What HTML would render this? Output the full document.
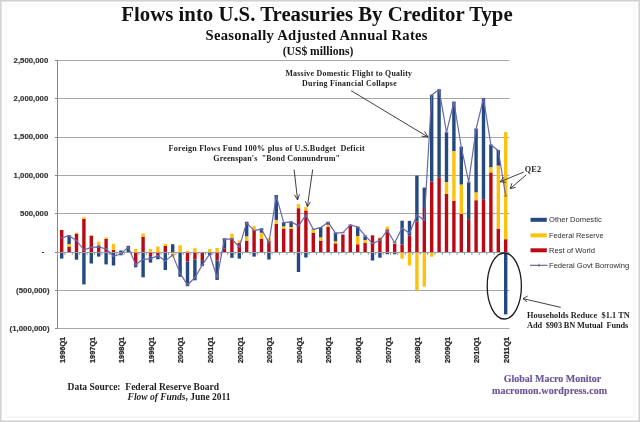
<!DOCTYPE html>
<html><head><meta charset="utf-8"><title>Flows into U.S. Treasuries By Creditor Type</title>
<style>html,body{margin:0;padding:0;background:#fff;}body{width:640px;height:422px;overflow:hidden;}svg{display:block;}</style>
</head><body>
<svg width="640" height="422" viewBox="0 0 640 422">
<rect x="0" y="0" width="640" height="422" fill="#ffffff"/>
<g stroke="#a8a8a8" stroke-width="1" fill="none"><line x1="57.5" y1="60.5" x2="509.5" y2="60.5"/><line x1="57.5" y1="98.5" x2="509.5" y2="98.5"/><line x1="57.5" y1="137.5" x2="509.5" y2="137.5"/><line x1="57.5" y1="175.5" x2="509.5" y2="175.5"/><line x1="57.5" y1="213.5" x2="509.5" y2="213.5"/><line x1="57.5" y1="290.5" x2="509.5" y2="290.5"/><line x1="57.5" y1="328.5" x2="509.5" y2="328.5"/></g>
<g id="bars"><rect x="60" y="230" width="3.4" height="22" fill="#b90a15"/><rect x="60" y="252" width="3.4" height="6.6" fill="#24497f"/><rect x="67.4" y="246.5" width="3.4" height="5.5" fill="#b90a15"/><rect x="67.4" y="244" width="3.4" height="2.5" fill="#fcc20e"/><rect x="67.4" y="235" width="3.4" height="9" fill="#24497f"/><rect x="74.8" y="233.5" width="3.4" height="18.5" fill="#b90a15"/><rect x="74.8" y="232.6" width="3.4" height="0.9" fill="#fcc20e"/><rect x="74.8" y="252" width="3.4" height="7.7" fill="#24497f"/><rect x="82.2" y="219" width="3.4" height="33" fill="#b90a15"/><rect x="82.2" y="217.2" width="3.4" height="1.8" fill="#fcc20e"/><rect x="82.2" y="252" width="3.4" height="32.4" fill="#24497f"/><rect x="89.6" y="235.7" width="3.4" height="16.3" fill="#b90a15"/><rect x="89.6" y="235" width="3.4" height="0.7" fill="#fcc20e"/><rect x="89.6" y="252" width="3.4" height="11.5" fill="#24497f"/><rect x="97" y="245.3" width="3.4" height="6.7" fill="#b90a15"/><rect x="97" y="241.6" width="3.4" height="3.7" fill="#fcc20e"/><rect x="97" y="252" width="3.4" height="4.6" fill="#24497f"/><rect x="104.4" y="238.9" width="3.4" height="13.1" fill="#b90a15"/><rect x="104.4" y="237.3" width="3.4" height="1.6" fill="#fcc20e"/><rect x="104.4" y="252" width="3.4" height="12.4" fill="#24497f"/><rect x="111.8" y="249.7" width="3.4" height="2.3" fill="#b90a15"/><rect x="111.8" y="243.8" width="3.4" height="5.9" fill="#fcc20e"/><rect x="111.8" y="252" width="3.4" height="13.5" fill="#24497f"/><rect x="119.2" y="250.5" width="3.4" height="1.5" fill="#24497f"/><rect x="119.2" y="252" width="3.4" height="3.3" fill="#24497f"/><rect x="126.6" y="245.8" width="3.4" height="6.2" fill="#24497f"/><rect x="134" y="249" width="3.4" height="3" fill="#fcc20e"/><rect x="134" y="252" width="3.4" height="13.2" fill="#b90a15"/><rect x="134" y="265.2" width="3.4" height="2.1" fill="#24497f"/><rect x="141.4" y="236.7" width="3.4" height="15.3" fill="#b90a15"/><rect x="141.4" y="233.6" width="3.4" height="3.1" fill="#fcc20e"/><rect x="141.4" y="252" width="3.4" height="25.3" fill="#24497f"/><rect x="148.8" y="248.8" width="3.4" height="3.2" fill="#fcc20e"/><rect x="148.8" y="252" width="3.4" height="4.2" fill="#b90a15"/><rect x="148.8" y="256.2" width="3.4" height="6.4" fill="#24497f"/><rect x="156.2" y="246.5" width="3.4" height="5.5" fill="#fcc20e"/><rect x="156.2" y="252" width="3.4" height="4" fill="#b90a15"/><rect x="156.2" y="256" width="3.4" height="3.3" fill="#24497f"/><rect x="163.6" y="246" width="3.4" height="6" fill="#b90a15"/><rect x="163.6" y="244" width="3.4" height="2" fill="#fcc20e"/><rect x="163.6" y="252" width="3.4" height="18" fill="#24497f"/><rect x="171" y="244.2" width="3.4" height="7.8" fill="#24497f"/><rect x="171" y="252" width="3.4" height="5" fill="#fcc20e"/><rect x="178.4" y="245.2" width="3.4" height="6.8" fill="#fcc20e"/><rect x="178.4" y="252" width="3.4" height="24.8" fill="#24497f"/><rect x="185.8" y="251" width="3.4" height="1" fill="#fcc20e"/><rect x="185.8" y="252" width="3.4" height="9.6" fill="#b90a15"/><rect x="185.8" y="261.6" width="3.4" height="24.6" fill="#24497f"/><rect x="193.2" y="248.2" width="3.4" height="3.8" fill="#fcc20e"/><rect x="193.2" y="252" width="3.4" height="7.5" fill="#b90a15"/><rect x="193.2" y="259.5" width="3.4" height="20.8" fill="#24497f"/><rect x="200.6" y="252" width="3.4" height="8.8" fill="#b90a15"/><rect x="200.6" y="260.8" width="3.4" height="5.3" fill="#24497f"/><rect x="208" y="249" width="3.4" height="3" fill="#fcc20e"/><rect x="208" y="252" width="3.4" height="3.3" fill="#24497f"/><rect x="215.4" y="248" width="3.4" height="4" fill="#fcc20e"/><rect x="215.4" y="252" width="3.4" height="8.5" fill="#b90a15"/><rect x="215.4" y="260.5" width="3.4" height="19.4" fill="#24497f"/><rect x="222.8" y="248.4" width="3.4" height="3.6" fill="#b90a15"/><rect x="222.8" y="238.3" width="3.4" height="10.1" fill="#24497f"/><rect x="230.2" y="238.1" width="3.4" height="13.9" fill="#b90a15"/><rect x="230.2" y="233.6" width="3.4" height="4.5" fill="#fcc20e"/><rect x="230.2" y="252" width="3.4" height="5.8" fill="#24497f"/><rect x="237.6" y="243" width="3.4" height="9" fill="#b90a15"/><rect x="237.6" y="240.5" width="3.4" height="2.5" fill="#fcc20e"/><rect x="237.6" y="252" width="3.4" height="6.6" fill="#24497f"/><rect x="245" y="240.6" width="3.4" height="11.4" fill="#b90a15"/><rect x="245" y="236.3" width="3.4" height="4.3" fill="#fcc20e"/><rect x="245" y="221.7" width="3.4" height="14.6" fill="#24497f"/><rect x="252.4" y="230.3" width="3.4" height="21.7" fill="#b90a15"/><rect x="252.4" y="226.1" width="3.4" height="4.2" fill="#fcc20e"/><rect x="252.4" y="252" width="3.4" height="4.6" fill="#24497f"/><rect x="259.8" y="238.6" width="3.4" height="13.4" fill="#b90a15"/><rect x="259.8" y="232.7" width="3.4" height="5.9" fill="#fcc20e"/><rect x="259.8" y="228.3" width="3.4" height="4.4" fill="#24497f"/><rect x="267.2" y="241" width="3.4" height="11" fill="#b90a15"/><rect x="267.2" y="237.9" width="3.4" height="3.1" fill="#fcc20e"/><rect x="267.2" y="252" width="3.4" height="7.5" fill="#24497f"/><rect x="274.6" y="224" width="3.4" height="28" fill="#b90a15"/><rect x="274.6" y="219.9" width="3.4" height="4.1" fill="#fcc20e"/><rect x="274.6" y="195" width="3.4" height="24.9" fill="#24497f"/><rect x="282" y="228.5" width="3.4" height="23.5" fill="#b90a15"/><rect x="282" y="226.3" width="3.4" height="2.2" fill="#fcc20e"/><rect x="282" y="222.7" width="3.4" height="3.6" fill="#24497f"/><rect x="289.4" y="229" width="3.4" height="23" fill="#b90a15"/><rect x="289.4" y="227" width="3.4" height="2" fill="#fcc20e"/><rect x="289.4" y="221.5" width="3.4" height="5.5" fill="#24497f"/><rect x="296.8" y="208.2" width="3.4" height="43.8" fill="#b90a15"/><rect x="296.8" y="204" width="3.4" height="4.2" fill="#fcc20e"/><rect x="296.8" y="252" width="3.4" height="20" fill="#24497f"/><rect x="304.2" y="210.4" width="3.4" height="41.6" fill="#b90a15"/><rect x="304.2" y="207.2" width="3.4" height="3.2" fill="#fcc20e"/><rect x="304.2" y="252" width="3.4" height="5.5" fill="#24497f"/><rect x="311.6" y="233" width="3.4" height="19" fill="#b90a15"/><rect x="311.6" y="230" width="3.4" height="3" fill="#fcc20e"/><rect x="319" y="240.6" width="3.4" height="11.4" fill="#b90a15"/><rect x="319" y="237.3" width="3.4" height="3.3" fill="#fcc20e"/><rect x="319" y="227.4" width="3.4" height="9.9" fill="#24497f"/><rect x="326.4" y="227" width="3.4" height="25" fill="#b90a15"/><rect x="326.4" y="224.7" width="3.4" height="2.3" fill="#fcc20e"/><rect x="326.4" y="222" width="3.4" height="2.7" fill="#24497f"/><rect x="333.8" y="243.4" width="3.4" height="8.6" fill="#b90a15"/><rect x="333.8" y="241.3" width="3.4" height="2.1" fill="#fcc20e"/><rect x="333.8" y="232.7" width="3.4" height="8.6" fill="#24497f"/><rect x="341.2" y="234.5" width="3.4" height="17.5" fill="#b90a15"/><rect x="348.6" y="225.7" width="3.4" height="26.3" fill="#b90a15"/><rect x="356" y="244.3" width="3.4" height="7.7" fill="#b90a15"/><rect x="356" y="236" width="3.4" height="8.3" fill="#fcc20e"/><rect x="356" y="226.8" width="3.4" height="9.2" fill="#24497f"/><rect x="363.4" y="242.7" width="3.4" height="9.3" fill="#b90a15"/><rect x="363.4" y="240" width="3.4" height="2.7" fill="#fcc20e"/><rect x="363.4" y="236.3" width="3.4" height="3.7" fill="#24497f"/><rect x="370.8" y="235.3" width="3.4" height="16.7" fill="#b90a15"/><rect x="370.8" y="252" width="3.4" height="8.5" fill="#24497f"/><rect x="378.2" y="238.2" width="3.4" height="13.8" fill="#b90a15"/><rect x="378.2" y="237.5" width="3.4" height="0.7" fill="#fcc20e"/><rect x="378.2" y="252" width="3.4" height="5.7" fill="#24497f"/><rect x="385.6" y="229.3" width="3.4" height="22.7" fill="#b90a15"/><rect x="385.6" y="226.7" width="3.4" height="2.6" fill="#fcc20e"/><rect x="385.6" y="252" width="3.4" height="2.2" fill="#24497f"/><rect x="393" y="243.6" width="3.4" height="8.4" fill="#b90a15"/><rect x="393" y="252" width="3.4" height="2.2" fill="#24497f"/><rect x="400.4" y="244.5" width="3.4" height="7.5" fill="#b90a15"/><rect x="400.4" y="220.7" width="3.4" height="23.8" fill="#24497f"/><rect x="400.4" y="252" width="3.4" height="6.7" fill="#fcc20e"/><rect x="407.8" y="235.6" width="3.4" height="16.4" fill="#b90a15"/><rect x="407.8" y="220.9" width="3.4" height="14.7" fill="#24497f"/><rect x="407.8" y="252" width="3.4" height="13.5" fill="#fcc20e"/><rect x="415.2" y="221.6" width="3.4" height="30.4" fill="#b90a15"/><rect x="415.2" y="175.6" width="3.4" height="46" fill="#24497f"/><rect x="415.2" y="252" width="3.4" height="38.3" fill="#fcc20e"/><rect x="422.6" y="208" width="3.4" height="44" fill="#b90a15"/><rect x="422.6" y="187.6" width="3.4" height="20.4" fill="#24497f"/><rect x="422.6" y="252" width="3.4" height="34.6" fill="#fcc20e"/><rect x="430" y="181.4" width="3.4" height="70.6" fill="#b90a15"/><rect x="430" y="95.2" width="3.4" height="86.2" fill="#24497f"/><rect x="430" y="252" width="3.4" height="4.8" fill="#fcc20e"/><rect x="437.4" y="177.3" width="3.4" height="74.7" fill="#b90a15"/><rect x="437.4" y="89.6" width="3.4" height="87.7" fill="#24497f"/><rect x="444.8" y="194" width="3.4" height="58" fill="#b90a15"/><rect x="444.8" y="182" width="3.4" height="12" fill="#fcc20e"/><rect x="444.8" y="132.7" width="3.4" height="49.3" fill="#24497f"/><rect x="452.2" y="200.7" width="3.4" height="51.3" fill="#b90a15"/><rect x="452.2" y="151" width="3.4" height="49.7" fill="#fcc20e"/><rect x="452.2" y="102" width="3.4" height="49" fill="#24497f"/><rect x="459.6" y="214" width="3.4" height="38" fill="#b90a15"/><rect x="459.6" y="184.5" width="3.4" height="29.5" fill="#fcc20e"/><rect x="459.6" y="147" width="3.4" height="37.5" fill="#24497f"/><rect x="467" y="219.2" width="3.4" height="32.8" fill="#b90a15"/><rect x="467" y="182.5" width="3.4" height="36.7" fill="#24497f"/><rect x="474.4" y="200.2" width="3.4" height="51.8" fill="#b90a15"/><rect x="474.4" y="192.3" width="3.4" height="7.9" fill="#fcc20e"/><rect x="474.4" y="128.8" width="3.4" height="63.5" fill="#24497f"/><rect x="481.8" y="199.2" width="3.4" height="52.8" fill="#b90a15"/><rect x="481.8" y="98.2" width="3.4" height="101" fill="#24497f"/><rect x="489.2" y="172.4" width="3.4" height="79.6" fill="#b90a15"/><rect x="489.2" y="167.2" width="3.4" height="5.2" fill="#fcc20e"/><rect x="489.2" y="144.8" width="3.4" height="22.4" fill="#24497f"/><rect x="496.6" y="228.6" width="3.4" height="23.4" fill="#b90a15"/><rect x="496.6" y="165.6" width="3.4" height="63" fill="#fcc20e"/><rect x="496.6" y="150.2" width="3.4" height="15.4" fill="#24497f"/><rect x="504" y="239.2" width="3.4" height="12.8" fill="#b90a15"/><rect x="504" y="132" width="3.4" height="107.2" fill="#fcc20e"/><rect x="504" y="252" width="3.4" height="62.4" fill="#24497f"/></g>
<g stroke="#868686" stroke-width="1" fill="none">
<line x1="57.5" y1="60" x2="57.5" y2="328.8"/>
<line x1="55" y1="60.5" x2="57.5" y2="60.5"/><line x1="55" y1="98.5" x2="57.5" y2="98.5"/><line x1="55" y1="137.5" x2="57.5" y2="137.5"/><line x1="55" y1="175.5" x2="57.5" y2="175.5"/><line x1="55" y1="213.5" x2="57.5" y2="213.5"/><line x1="55" y1="290.5" x2="57.5" y2="290.5"/><line x1="55" y1="328.5" x2="57.5" y2="328.5"/><line x1="55" y1="252.5" x2="57.5" y2="252.5"/>
<g stroke="#9c9ca4"><line x1="57.5" y1="252.5" x2="509.5" y2="252.5"/>
<line x1="57.5" y1="252.5" x2="57.5" y2="255"/><line x1="64.9" y1="252.5" x2="64.9" y2="255"/><line x1="72.3" y1="252.5" x2="72.3" y2="255"/><line x1="79.7" y1="252.5" x2="79.7" y2="255"/><line x1="87.1" y1="252.5" x2="87.1" y2="255"/><line x1="94.5" y1="252.5" x2="94.5" y2="255"/><line x1="101.9" y1="252.5" x2="101.9" y2="255"/><line x1="109.3" y1="252.5" x2="109.3" y2="255"/><line x1="116.7" y1="252.5" x2="116.7" y2="255"/><line x1="124.1" y1="252.5" x2="124.1" y2="255"/><line x1="131.5" y1="252.5" x2="131.5" y2="255"/><line x1="138.9" y1="252.5" x2="138.9" y2="255"/><line x1="146.3" y1="252.5" x2="146.3" y2="255"/><line x1="153.7" y1="252.5" x2="153.7" y2="255"/><line x1="161.1" y1="252.5" x2="161.1" y2="255"/><line x1="168.5" y1="252.5" x2="168.5" y2="255"/><line x1="175.9" y1="252.5" x2="175.9" y2="255"/><line x1="183.3" y1="252.5" x2="183.3" y2="255"/><line x1="190.7" y1="252.5" x2="190.7" y2="255"/><line x1="198.1" y1="252.5" x2="198.1" y2="255"/><line x1="205.5" y1="252.5" x2="205.5" y2="255"/><line x1="212.9" y1="252.5" x2="212.9" y2="255"/><line x1="220.3" y1="252.5" x2="220.3" y2="255"/><line x1="227.7" y1="252.5" x2="227.7" y2="255"/><line x1="235.1" y1="252.5" x2="235.1" y2="255"/><line x1="242.5" y1="252.5" x2="242.5" y2="255"/><line x1="249.9" y1="252.5" x2="249.9" y2="255"/><line x1="257.3" y1="252.5" x2="257.3" y2="255"/><line x1="264.7" y1="252.5" x2="264.7" y2="255"/><line x1="272.1" y1="252.5" x2="272.1" y2="255"/><line x1="279.5" y1="252.5" x2="279.5" y2="255"/><line x1="286.9" y1="252.5" x2="286.9" y2="255"/><line x1="294.3" y1="252.5" x2="294.3" y2="255"/><line x1="301.7" y1="252.5" x2="301.7" y2="255"/><line x1="309.1" y1="252.5" x2="309.1" y2="255"/><line x1="316.5" y1="252.5" x2="316.5" y2="255"/><line x1="323.9" y1="252.5" x2="323.9" y2="255"/><line x1="331.3" y1="252.5" x2="331.3" y2="255"/><line x1="338.7" y1="252.5" x2="338.7" y2="255"/><line x1="346.1" y1="252.5" x2="346.1" y2="255"/><line x1="353.5" y1="252.5" x2="353.5" y2="255"/><line x1="360.9" y1="252.5" x2="360.9" y2="255"/><line x1="368.3" y1="252.5" x2="368.3" y2="255"/><line x1="375.7" y1="252.5" x2="375.7" y2="255"/><line x1="383.1" y1="252.5" x2="383.1" y2="255"/><line x1="390.5" y1="252.5" x2="390.5" y2="255"/><line x1="397.9" y1="252.5" x2="397.9" y2="255"/><line x1="405.3" y1="252.5" x2="405.3" y2="255"/><line x1="412.7" y1="252.5" x2="412.7" y2="255"/><line x1="420.1" y1="252.5" x2="420.1" y2="255"/><line x1="427.5" y1="252.5" x2="427.5" y2="255"/><line x1="434.9" y1="252.5" x2="434.9" y2="255"/><line x1="442.3" y1="252.5" x2="442.3" y2="255"/><line x1="449.7" y1="252.5" x2="449.7" y2="255"/><line x1="457.1" y1="252.5" x2="457.1" y2="255"/><line x1="464.5" y1="252.5" x2="464.5" y2="255"/><line x1="471.9" y1="252.5" x2="471.9" y2="255"/><line x1="479.3" y1="252.5" x2="479.3" y2="255"/><line x1="486.7" y1="252.5" x2="486.7" y2="255"/><line x1="494.1" y1="252.5" x2="494.1" y2="255"/><line x1="501.5" y1="252.5" x2="501.5" y2="255"/><line x1="508.9" y1="252.5" x2="508.9" y2="255"/></g>
</g>
<polyline points="61.7,237.8 69.1,235.7 76.5,240.5 83.9,250 91.3,247.4 98.7,246.9 106.1,249 113.5,256.3 120.9,254 128.3,247.1 135.7,264.6 143.1,259.3 150.5,258.8 157.9,255.6 165.3,260.9 172.7,254.9 180.1,273.4 187.5,284.8 194.9,277.7 202.3,264.9 209.7,254.2 217.1,277.7 224.5,239.1 231.9,239.1 239.3,247 246.7,222.8 254.1,230.6 261.5,229.2 268.9,242.7 276.3,196 283.7,222.6 291.1,221.9 298.5,225.8 305.9,215.2 313.3,229.4 320.7,227.6 328.1,222.2 335.5,233.2 342.9,232.7 350.3,224.9 357.7,227 365.1,235.6 372.5,243.4 379.9,240.5 387.3,230.4 394.7,242.7 402.1,228.1 409.5,233.3 416.9,215 424.3,220.2 431.7,95 439.1,89.6 446.5,132.3 453.9,102 461.3,147 468.7,182 476.1,129 483.5,98.4 490.9,144.9 498.3,150.5 505.7,196" fill="none" stroke="#6a67ac" stroke-width="1.2" stroke-linejoin="round"/>
<path d="M59.7 237.8h4M67.1 235.7h4M74.5 240.5h4M81.9 250h4M89.3 247.4h4M96.7 246.9h4M104.1 249h4M111.5 256.3h4M118.9 254h4M126.3 247.1h4M133.7 264.6h4M141.1 259.3h4M148.5 258.8h4M155.9 255.6h4M163.3 260.9h4M170.7 254.9h4M178.1 273.4h4M185.5 284.8h4M192.9 277.7h4M200.3 264.9h4M207.7 254.2h4M215.1 277.7h4M222.5 239.1h4M229.9 239.1h4M237.3 247h4M244.7 222.8h4M252.1 230.6h4M259.5 229.2h4M266.9 242.7h4M274.3 196h4M281.7 222.6h4M289.1 221.9h4M296.5 225.8h4M303.9 215.2h4M311.3 229.4h4M318.7 227.6h4M326.1 222.2h4M333.5 233.2h4M340.9 232.7h4M348.3 224.9h4M355.7 227h4M363.1 235.6h4M370.5 243.4h4M377.9 240.5h4M385.3 230.4h4M392.7 242.7h4M400.1 228.1h4M407.5 233.3h4M414.9 215h4M422.3 220.2h4M429.7 95h4M437.1 89.6h4M444.5 132.3h4M451.9 102h4M459.3 147h4M466.7 182h4M474.1 129h4M481.5 98.4h4M488.9 144.9h4M496.3 150.5h4M503.7 196h4" stroke="#6a67ac" stroke-width="0.8" fill="none"/>
<g font-family="Liberation Sans, Arial, sans-serif" font-weight="bold" font-size="7.8" fill="#333333" stroke="#333333" stroke-width="0.15" text-anchor="end"><text x="48.3" y="63">2,500,000</text><text x="48.3" y="101.1">2,000,000</text><text x="48.3" y="139.3">1,500,000</text><text x="48.3" y="177.5">1,000,000</text><text x="48.3" y="215.8">500,000</text><text x="44.4" y="254.2">-</text><text x="49.5" y="293.1">(500,000)</text><text x="49.5" y="331">(1,000,000)</text></g>
<g font-family="Liberation Sans, Arial, sans-serif" font-weight="bold" font-size="6.9" fill="#262626" stroke="#262626" stroke-width="0.25" text-anchor="end"><text transform="translate(65,336.8) rotate(-90)" x="0" y="0" textLength="26.2" lengthAdjust="spacingAndGlyphs">1996Q1</text><text transform="translate(94.6,336.8) rotate(-90)" x="0" y="0" textLength="26.2" lengthAdjust="spacingAndGlyphs">1997Q1</text><text transform="translate(124.2,336.8) rotate(-90)" x="0" y="0" textLength="26.2" lengthAdjust="spacingAndGlyphs">1998Q1</text><text transform="translate(153.8,336.8) rotate(-90)" x="0" y="0" textLength="26.2" lengthAdjust="spacingAndGlyphs">1999Q1</text><text transform="translate(183.4,336.8) rotate(-90)" x="0" y="0" textLength="26.2" lengthAdjust="spacingAndGlyphs">2000Q1</text><text transform="translate(213,336.8) rotate(-90)" x="0" y="0" textLength="26.2" lengthAdjust="spacingAndGlyphs">2001Q1</text><text transform="translate(242.6,336.8) rotate(-90)" x="0" y="0" textLength="26.2" lengthAdjust="spacingAndGlyphs">2002Q1</text><text transform="translate(272.2,336.8) rotate(-90)" x="0" y="0" textLength="26.2" lengthAdjust="spacingAndGlyphs">2003Q1</text><text transform="translate(301.8,336.8) rotate(-90)" x="0" y="0" textLength="26.2" lengthAdjust="spacingAndGlyphs">2004Q1</text><text transform="translate(331.4,336.8) rotate(-90)" x="0" y="0" textLength="26.2" lengthAdjust="spacingAndGlyphs">2005Q1</text><text transform="translate(361,336.8) rotate(-90)" x="0" y="0" textLength="26.2" lengthAdjust="spacingAndGlyphs">2006Q1</text><text transform="translate(390.6,336.8) rotate(-90)" x="0" y="0" textLength="26.2" lengthAdjust="spacingAndGlyphs">2007Q1</text><text transform="translate(420.2,336.8) rotate(-90)" x="0" y="0" textLength="26.2" lengthAdjust="spacingAndGlyphs">2008Q1</text><text transform="translate(449.8,336.8) rotate(-90)" x="0" y="0" textLength="26.2" lengthAdjust="spacingAndGlyphs">2009Q1</text><text transform="translate(479.4,336.8) rotate(-90)" x="0" y="0" textLength="26.2" lengthAdjust="spacingAndGlyphs">2010Q1</text><text transform="translate(509,336.8) rotate(-90)" x="0" y="0" textLength="26.2" lengthAdjust="spacingAndGlyphs">2011Q1</text></g>
<!-- legend -->
<g>
<rect x="530.5" y="217.8" width="16.3" height="4" fill="#24497f"/>
<rect x="530.5" y="233.4" width="16.3" height="4" fill="#fcc20e"/>
<rect x="530.5" y="248.3" width="16.3" height="4" fill="#b90a15"/>
<line x1="530" y1="265.3" x2="547.5" y2="265.3" stroke="#5e5e80" stroke-width="1.1"/>
<line x1="539" y1="263.8" x2="539" y2="266.8" stroke="#5e5e80" stroke-width="1"/>
</g>
<g font-family="Liberation Sans, Arial, sans-serif" font-size="7.6" fill="#2e2e2e">
<text x="549" y="222.4">Other Domestic</text>
<text x="549" y="237.5" textLength="54.5" lengthAdjust="spacingAndGlyphs">Federal Reserve</text>
<text x="549" y="253.1">Rest of World</text>
<text x="549" y="268.2">Federal Govt Borrowing</text>
</g>
<!-- titles -->
<g font-family="Liberation Serif, Times New Roman, serif" font-weight="bold" fill="#111" text-anchor="middle">
<text x="317" y="21.1" font-size="20.8">Flows into U.S. Treasuries By Creditor Type</text>
<text x="316.5" y="39.6" font-size="14.6" textLength="222" lengthAdjust="spacing">Seasonally Adjusted Annual Rates</text>
<text x="318" y="55.3" font-size="11.6">(US$ millions)</text>
</g>
<!-- annotations -->
<g font-family="Liberation Serif, Times New Roman, serif" font-weight="bold" font-size="7.9" fill="#1e1e1e" lengthAdjust="spacing">
<text x="285.4" y="76" textLength="126.6">Massive Domestic Flight to Quality</text>
<text x="302.1" y="86.4" textLength="94.6">During Financial Collapse</text>
<text x="168.6" y="150.7" textLength="196" font-size="8.1">Foreign Flows Fund 100% plus of U.S.Budget &#160;Deficit</text>
<text x="213.3" y="160.6" textLength="126.7" font-size="8.1">Greenspan's &#160;"Bond Connundrum"</text>
<text x="524.8" y="171.7" textLength="16.2" font-size="8.2">QE2</text>
<text x="527" y="318.2" textLength="102.8" font-size="8.3">Households Reduce &#160;$1.1 TN</text>
<text x="527" y="328.3" textLength="101.3" font-size="8.3">Add &#160;$903 BN Mutual &#160;Funds</text>
</g>
<g stroke="#2a2a2a" stroke-width="0.9" fill="none">
<line x1="351.1" y1="90.7" x2="428" y2="137"/>
<path d="M421.5 136.2 L428 137 L424.6 131.4"/>
<line x1="294.1" y1="169.5" x2="297.6" y2="200"/>
<path d="M294.6 194.8 L297.6 200 L299.4 194.3"/>
<line x1="312.7" y1="169.5" x2="307.4" y2="206.7"/>
<path d="M305.5 201.3 L307.4 206.7 L310.3 201.9"/>
<line x1="523.8" y1="172" x2="500.1" y2="181.8"/>
<path d="M503.6 177.2 L500.1 181.8 L505.8 182.2"/>
<line x1="526.2" y1="174.9" x2="510.2" y2="188.6"/>
<path d="M511.9 183.3 L510.2 188.6 L515.6 187.4"/>
<line x1="560.8" y1="307.4" x2="523" y2="298.6"/>
<path d="M527.7 296 L523 298.6 L527.0 301.8"/>
</g>
<ellipse cx="504.3" cy="286" rx="17.1" ry="33" fill="none" stroke="#1a1a1a" stroke-width="1.3"/>
<!-- footer -->
<g font-family="Liberation Serif, Times New Roman, serif" font-weight="bold" font-size="9.5" fill="#1e1e1e" style="white-space:pre">
<text x="67.5" y="389.7" textLength="151.5" lengthAdjust="spacing">Data Source: &#160;Federal Reserve Board</text>
<text x="127.6" y="400.4" textLength="102.8" lengthAdjust="spacing"><tspan font-style="italic">Flow of Funds</tspan>, June 2011</text>
</g>
<g font-family="Liberation Serif, Times New Roman, serif" font-weight="bold" font-size="10" fill="#6d5696" stroke="#6d5696" stroke-width="0.15" text-anchor="middle">
<text x="552.5" y="381.5">Global Macro Monitor</text>
<text x="549.6" y="393.8" textLength="115.2" lengthAdjust="spacing">macromon.wordpress.com</text>
</g>
<!-- frame -->
<rect x="4.5" y="4.5" width="631" height="413" fill="none" stroke="#f6f6f6" stroke-width="1"/>
<rect x="6.5" y="6.5" width="627.5" height="410" fill="none" stroke="#f7f7f7" stroke-width="1"/>
<rect x="0" y="0" width="640" height="1.6" fill="#d2d2d2"/>
<rect x="0" y="0" width="1.6" height="422" fill="#d2d2d2"/>
<rect x="638.4" y="0" width="1.6" height="422" fill="#d2d2d2"/>
<rect x="0" y="420.4" width="640" height="1.6" fill="#d2d2d2"/>
</svg>
</body></html>
